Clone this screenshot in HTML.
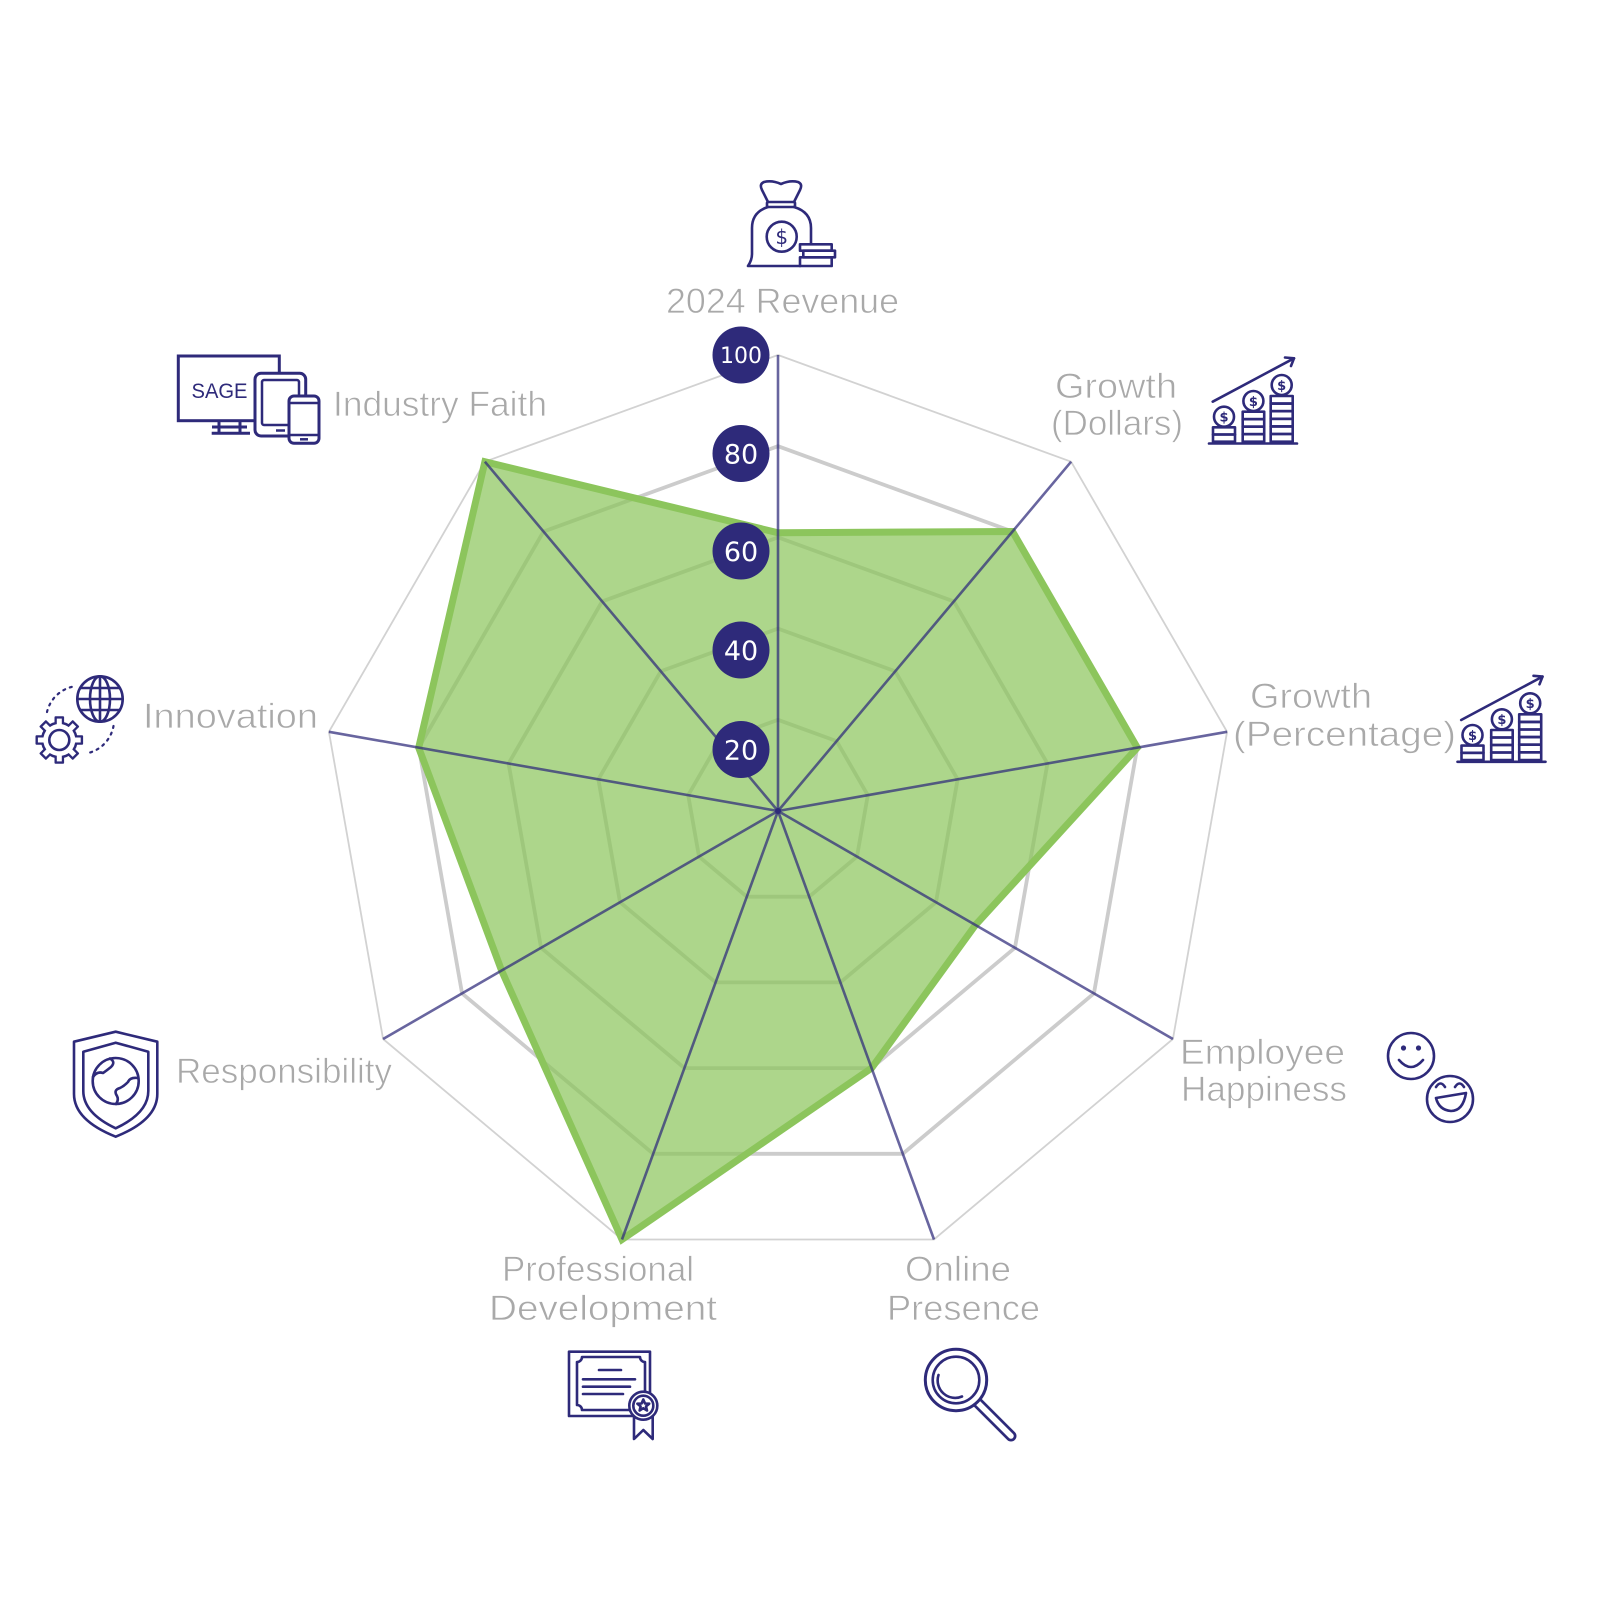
<!DOCTYPE html>
<html><head><meta charset="utf-8"><style>
html,body{margin:0;padding:0;background:#fff;}
svg{display:block;}
.lbl{font-family:"Liberation Sans",sans-serif;font-size:35px;fill:#a9a9a9;stroke:#fff;stroke-width:0.7;}
.num{font-family:"DejaVu Sans","Liberation Sans",sans-serif;fill:#fff;text-anchor:middle;}
.ic{fill:none;stroke:#2e2a7a;stroke-width:2.6;stroke-linejoin:round;stroke-linecap:round;}
.icw{fill:#fff;stroke:#2e2a7a;stroke-width:2.6;stroke-linejoin:round;stroke-linecap:round;}
.dol{font-family:"DejaVu Sans","Liberation Sans",sans-serif;font-weight:bold;font-size:13px;fill:#2e2a7a;text-anchor:middle;}
</style></head><body>
<svg width="1600" height="1600" viewBox="0 0 1600 1600" xmlns="http://www.w3.org/2000/svg">
<rect width="1600" height="1600" fill="#fff"/>

<!-- grid rings -->
<g transform="translate(778 811)" fill="none">
  <polygon points="0,-456 293.11,-349.32 449.07,-79.18 394.91,228 155.96,428.5 -155.96,428.5 -394.91,228 -449.07,-79.18 -293.11,-349.32" stroke="#d2d2d2" stroke-width="1.8" vector-effect="non-scaling-stroke"/>
  <polygon transform="scale(0.8)" points="0,-456 293.11,-349.32 449.07,-79.18 394.91,228 155.96,428.5 -155.96,428.5 -394.91,228 -449.07,-79.18 -293.11,-349.32" stroke="#cccccc" stroke-width="3.8" vector-effect="non-scaling-stroke"/>
  <polygon transform="scale(0.6)" points="0,-456 293.11,-349.32 449.07,-79.18 394.91,228 155.96,428.5 -155.96,428.5 -394.91,228 -449.07,-79.18 -293.11,-349.32" stroke="#cccccc" stroke-width="3.8" vector-effect="non-scaling-stroke"/>
  <polygon transform="scale(0.4)" points="0,-456 293.11,-349.32 449.07,-79.18 394.91,228 155.96,428.5 -155.96,428.5 -394.91,228 -449.07,-79.18 -293.11,-349.32" stroke="#cccccc" stroke-width="3.8" vector-effect="non-scaling-stroke"/>
  <polygon transform="scale(0.2)" points="0,-456 293.11,-349.32 449.07,-79.18 394.91,228 155.96,428.5 -155.96,428.5 -394.91,228 -449.07,-79.18 -293.11,-349.32" stroke="#cccccc" stroke-width="3.8" vector-effect="non-scaling-stroke"/>
</g>

<!-- data polygon -->
<polygon points="778,532.8 1012.5,531.5 1137.3,747.7 975.5,925 871.6,1068.1 622,1239.5 501.6,970.6 418.7,747.7 484.9,461.7" fill="rgba(140,197,92,0.71)" stroke="#8cc55c" stroke-width="7" stroke-linejoin="miter"/>

<!-- axes -->
<g stroke="#2e2a7a" stroke-opacity="0.72" stroke-width="2.6">
  <line x1="778" y1="811" x2="778" y2="355"/>
  <line x1="778" y1="811" x2="1071.1" y2="461.7"/>
  <line x1="778" y1="811" x2="1227.1" y2="731.8"/>
  <line x1="778" y1="811" x2="1172.9" y2="1039"/>
  <line x1="778" y1="811" x2="934" y2="1239.5"/>
  <line x1="778" y1="811" x2="622" y2="1239.5"/>
  <line x1="778" y1="811" x2="383.1" y2="1039"/>
  <line x1="778" y1="811" x2="328.9" y2="731.8"/>
  <line x1="778" y1="811" x2="484.9" y2="461.7"/>
</g>
<circle cx="778" cy="811" r="3" fill="#2e2a7a"/>

<!-- scale circles -->
<g fill="#2e2a7a">
  <circle cx="741" cy="355" r="28.5"/>
  <circle cx="741" cy="453.5" r="28.5"/>
  <circle cx="741" cy="551" r="28.5"/>
  <circle cx="741" cy="650" r="28.5"/>
  <circle cx="741" cy="749.5" r="28.5"/>
</g>
<text class="num" x="741" y="363" font-size="22">100</text>
<text class="num" x="741" y="463.5" font-size="27">80</text>
<text class="num" x="741" y="561" font-size="27">60</text>
<text class="num" x="741" y="660" font-size="27">40</text>
<text class="num" x="741" y="759.5" font-size="27">20</text>

<!-- labels -->
<text class="lbl" x="666" y="313" textLength="233" lengthAdjust="spacingAndGlyphs">2024 Revenue</text>
<text class="lbl" x="1055" y="398" textLength="122" lengthAdjust="spacingAndGlyphs">Growth</text>
<text class="lbl" x="1051" y="435" textLength="132" lengthAdjust="spacingAndGlyphs">(Dollars)</text>
<text class="lbl" x="1250" y="708" textLength="122" lengthAdjust="spacingAndGlyphs">Growth</text>
<text class="lbl" x="1233" y="746" textLength="223" lengthAdjust="spacingAndGlyphs">(Percentage)</text>
<text class="lbl" x="1180" y="1064" textLength="165" lengthAdjust="spacingAndGlyphs">Employee</text>
<text class="lbl" x="1181" y="1101" textLength="166" lengthAdjust="spacingAndGlyphs">Happiness</text>
<text class="lbl" x="905" y="1281" textLength="106" lengthAdjust="spacingAndGlyphs">Online</text>
<text class="lbl" x="887" y="1320" textLength="153" lengthAdjust="spacingAndGlyphs">Presence</text>
<text class="lbl" x="502" y="1281" textLength="192" lengthAdjust="spacingAndGlyphs">Professional</text>
<text class="lbl" x="489" y="1320" textLength="228" lengthAdjust="spacingAndGlyphs">Development</text>
<text class="lbl" x="176" y="1083" textLength="216" lengthAdjust="spacingAndGlyphs">Responsibility</text>
<text class="lbl" x="143" y="728" textLength="175" lengthAdjust="spacingAndGlyphs">Innovation</text>
<text class="lbl" x="333" y="416" textLength="214" lengthAdjust="spacingAndGlyphs">Industry Faith</text>

<!-- money bag icon -->
<g class="ic">
  <path d="M768 202 L762 190 Q759 184 764 182 Q772 180 781 184 Q790 180 798 182 Q803 184 800 190 L794 202"/>
  <rect x="767" y="202" width="28" height="5" rx="1"/>
  <path d="M768 207 Q752 212 752 228 L752 254 Q752 260 748 266 L800 266"/>
  <path d="M794 207 Q811 212 811 228 L811 244"/>
  <circle cx="781.7" cy="236.7" r="15"/>
  <rect x="800" y="244.3" width="31.7" height="6.4"/>
  <rect x="803.3" y="250.7" width="31.7" height="6.6"/>
  <rect x="800" y="257.3" width="31.7" height="8.7"/>
</g>
<text x="781.7" y="244" font-family="DejaVu Sans,sans-serif" font-size="20" fill="#2e2a7a" text-anchor="middle">$</text>

<!-- growth icon 1 -->
<g>
  <g class="ic">
    <line x1="1209" y1="443.5" x2="1297" y2="443.5"/>
    <rect x="1213" y="427.3" width="22" height="7.2"/>
    <rect x="1213" y="434.5" width="22" height="7.2"/>
    <circle cx="1224" cy="416.7" r="10"/>
    <rect x="1242.7" y="411.7" width="21.5" height="7.5"/>
    <rect x="1242.7" y="419.2" width="21.5" height="7.5"/>
    <rect x="1242.7" y="426.7" width="21.5" height="7.5"/>
    <rect x="1242.7" y="434.2" width="21.5" height="7.5"/>
    <circle cx="1253.4" cy="401" r="10"/>
    <rect x="1270.7" y="396" width="22" height="7.6"/>
    <rect x="1270.7" y="403.6" width="22" height="7.6"/>
    <rect x="1270.7" y="411.2" width="22" height="7.6"/>
    <rect x="1270.7" y="418.8" width="22" height="7.6"/>
    <rect x="1270.7" y="426.4" width="22" height="7.6"/>
    <rect x="1270.7" y="434" width="22" height="7.7"/>
    <circle cx="1281.7" cy="385" r="10"/>
    <line x1="1212.7" y1="401.7" x2="1294" y2="358.3"/>
    <path d="M1285 357.5 L1294 358.3 L1291 366"/>
  </g>
  <text class="dol" x="1224" y="421.5">$</text>
  <text class="dol" x="1253.4" y="405.8">$</text>
  <text class="dol" x="1281.7" y="389.8">$</text>
</g>
<!-- growth icon 2 -->
<g transform="translate(248.5 318.3)">
  <g class="ic">
    <line x1="1209" y1="443.5" x2="1297" y2="443.5"/>
    <rect x="1213" y="427.3" width="22" height="7.2"/>
    <rect x="1213" y="434.5" width="22" height="7.2"/>
    <circle cx="1224" cy="416.7" r="10"/>
    <rect x="1242.7" y="411.7" width="21.5" height="7.5"/>
    <rect x="1242.7" y="419.2" width="21.5" height="7.5"/>
    <rect x="1242.7" y="426.7" width="21.5" height="7.5"/>
    <rect x="1242.7" y="434.2" width="21.5" height="7.5"/>
    <circle cx="1253.4" cy="401" r="10"/>
    <rect x="1270.7" y="396" width="22" height="7.6"/>
    <rect x="1270.7" y="403.6" width="22" height="7.6"/>
    <rect x="1270.7" y="411.2" width="22" height="7.6"/>
    <rect x="1270.7" y="418.8" width="22" height="7.6"/>
    <rect x="1270.7" y="426.4" width="22" height="7.6"/>
    <rect x="1270.7" y="434" width="22" height="7.7"/>
    <circle cx="1281.7" cy="385" r="10"/>
    <line x1="1212.7" y1="401.7" x2="1294" y2="358.3"/>
    <path d="M1285 357.5 L1294 358.3 L1291 366"/>
  </g>
  <text class="dol" x="1224" y="421.5">$</text>
  <text class="dol" x="1253.4" y="405.8">$</text>
  <text class="dol" x="1281.7" y="389.8">$</text>
</g>

<!-- smileys -->
<g class="ic">
  <circle cx="1411" cy="1056" r="23"/>
  <path d="M1399 1060 Q1411 1074 1423 1060"/>
  <circle cx="1450" cy="1099" r="23"/>
  <path d="M1436 1087 Q1440.5 1080 1445 1087"/>
  <path d="M1455 1087 Q1459.5 1080 1464 1087"/>
  <path d="M1436 1098 L1466 1093 Q1463 1111 1451 1111 Q1439 1110 1436 1098 Z"/>
</g>
<circle cx="1403.5" cy="1048" r="2.6" fill="#2e2a7a"/>
<circle cx="1418.5" cy="1048" r="2.6" fill="#2e2a7a"/>

<!-- magnifier -->
<g>
  <line x1="978" y1="1403" x2="1011" y2="1436" stroke="#2e2a7a" stroke-width="11" stroke-linecap="round"/>
  <line x1="978" y1="1403" x2="1011" y2="1436" stroke="#fff" stroke-width="5.5" stroke-linecap="round"/>
  <circle cx="956" cy="1380" r="30.7" fill="#fff" stroke="#2e2a7a" stroke-width="3"/>
  <circle cx="956" cy="1380" r="23.3" class="ic"/>
  <path class="ic" d="M938.5 1375 A17.5 17.5 0 0 0 962 1396.5"/>
</g>

<!-- certificate -->
<g>
  <rect x="569" y="1351.7" width="81" height="64.3" class="ic"/>
  <path class="ic" d="M582 1357 L640 1357 A5 5 0 0 0 645 1362 L645 1405 A5 5 0 0 0 640 1410 L582 1410 A5 5 0 0 0 577 1405 L577 1362 A5 5 0 0 0 582 1357 Z"/>
  <line class="ic" x1="599" y1="1370" x2="621" y2="1370"/>
  <line class="ic" x1="583" y1="1379.3" x2="635" y2="1379.3"/>
  <line class="ic" x1="583" y1="1386.7" x2="630" y2="1386.7"/>
  <line class="ic" x1="583" y1="1394" x2="623" y2="1394"/>
  <path class="icw" d="M634 1412 L634 1439 L643.3 1430 L652.7 1439 L652.7 1412"/>
  <circle class="icw" cx="643.3" cy="1405.7" r="14"/>
  <circle class="ic" cx="643.3" cy="1405.7" r="10"/>
  <path class="ic" stroke-width="2" d="M643.3 1399.5 L645 1403.5 L649.2 1403.7 L646 1406.4 L647 1410.5 L643.3 1408.2 L639.6 1410.5 L640.6 1406.4 L637.4 1403.7 L641.6 1403.5 Z"/>
</g>

<!-- shield -->
<g class="ic">
  <path d="M115.7 1031.7 L157.3 1041.7 L157.3 1094 Q157.3 1120 115.7 1136.7 Q74 1120 74 1094 L74 1041.7 Z"/>
  <path d="M115.7 1042.7 L148.3 1051.7 L148.3 1091 Q148.3 1113 115.7 1128.3 Q83.3 1113 83.3 1091 L83.3 1051.7 Z"/>
  <circle cx="115.7" cy="1081" r="23"/>
  <path d="M110 1058.5 Q116 1062 111 1067 Q106 1071 103 1073 Q97 1071 93 1077"/>
  <path d="M138 1078 Q130 1077 128 1082 Q124 1086 120 1088 Q113 1090 117 1096 Q119 1100 116 1104"/>
</g>

<!-- innovation icon -->
<g>
  <g class="ic">
    <circle cx="100" cy="699" r="22.7"/>
    <ellipse cx="100" cy="699" rx="10" ry="22.7"/>
    <line x1="100" y1="676.3" x2="100" y2="721.7"/>
    <line x1="77.3" y1="699" x2="122.7" y2="699"/>
    <line x1="80.5" y1="688" x2="119.5" y2="688"/>
    <line x1="80.5" y1="710" x2="119.5" y2="710"/>
  </g>
  <path d="M47 712 A34 34 0 0 1 73.5 686.5" fill="none" stroke="#2e2a7a" stroke-width="2.2" stroke-dasharray="2 5" stroke-linecap="round"/>
  <path d="M113.5 726 A34 34 0 0 1 86.5 753.4" fill="none" stroke="#2e2a7a" stroke-width="2.2" stroke-dasharray="2 5" stroke-linecap="round"/>
  <g transform="translate(59.3 740)">
    <g fill="#2e2a7a">
      <circle r="18.5"/>
      <rect x="-4.8" y="-23.8" width="9.6" height="8" rx="1" transform="rotate(0)"/>
      <rect x="-4.8" y="-23.8" width="9.6" height="8" rx="1" transform="rotate(45)"/>
      <rect x="-4.8" y="-23.8" width="9.6" height="8" rx="1" transform="rotate(90)"/>
      <rect x="-4.8" y="-23.8" width="9.6" height="8" rx="1" transform="rotate(135)"/>
      <rect x="-4.8" y="-23.8" width="9.6" height="8" rx="1" transform="rotate(180)"/>
      <rect x="-4.8" y="-23.8" width="9.6" height="8" rx="1" transform="rotate(225)"/>
      <rect x="-4.8" y="-23.8" width="9.6" height="8" rx="1" transform="rotate(270)"/>
      <rect x="-4.8" y="-23.8" width="9.6" height="8" rx="1" transform="rotate(315)"/>
    </g>
    <g fill="#fff">
      <circle r="16"/>
      <rect x="-2.5" y="-21.4" width="5" height="8" transform="rotate(0)"/>
      <rect x="-2.5" y="-21.4" width="5" height="8" transform="rotate(45)"/>
      <rect x="-2.5" y="-21.4" width="5" height="8" transform="rotate(90)"/>
      <rect x="-2.5" y="-21.4" width="5" height="8" transform="rotate(135)"/>
      <rect x="-2.5" y="-21.4" width="5" height="8" transform="rotate(180)"/>
      <rect x="-2.5" y="-21.4" width="5" height="8" transform="rotate(225)"/>
      <rect x="-2.5" y="-21.4" width="5" height="8" transform="rotate(270)"/>
      <rect x="-2.5" y="-21.4" width="5" height="8" transform="rotate(315)"/>
    </g>
    <circle r="10" class="ic"/>
  </g>
</g>

<!-- SAGE devices icon -->
<g>
  <rect x="178.3" y="356" width="101" height="64.7" fill="none" stroke="#2e2a7a" stroke-width="3"/>
  <path d="M219 420.7 L219 433.3 M240 420.7 L240 433.3 M212 427 L247 427 M211.7 433.3 L250 433.3" stroke="#2e2a7a" stroke-width="3" fill="none"/>
  <text x="191.5" y="398" font-family="Liberation Sans,sans-serif" font-size="21" fill="#2e2a7a" textLength="56" lengthAdjust="spacingAndGlyphs">SAGE</text>
  <rect x="255" y="373.3" width="50.7" height="62.7" rx="6" fill="#fff" stroke="#2e2a7a" stroke-width="3"/>
  <rect x="262" y="380" width="37" height="45" rx="2" fill="none" stroke="#2e2a7a" stroke-width="2.5"/>
  <line x1="276" y1="430.5" x2="285" y2="430.5" stroke="#2e2a7a" stroke-width="2.5"/>
  <rect x="289" y="396" width="30" height="47.3" rx="5" fill="#fff" stroke="#2e2a7a" stroke-width="3"/>
  <line x1="290" y1="403" x2="318" y2="403" stroke="#2e2a7a" stroke-width="2.5"/>
  <line x1="290" y1="435" x2="318" y2="435" stroke="#2e2a7a" stroke-width="2.5"/>
  <line x1="300" y1="439.3" x2="308" y2="439.3" stroke="#2e2a7a" stroke-width="2.5"/>
</g>
</svg>
</body></html>
